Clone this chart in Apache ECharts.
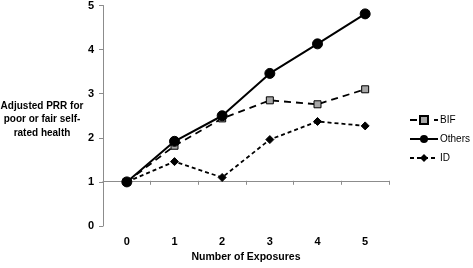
<!DOCTYPE html>
<html>
<head>
<meta charset="utf-8">
<script src="https://cdn.jsdelivr.net/npm/echarts@6/dist/echarts.min.js"></script>
<style>
    html, body { margin: 0; padding: 0; background: #fff; }
    #chart { width: 473px; height: 268px; }
</style>
</head>
<body>
<div id="chart"></div>
<script>
    var exposures = ['0', '1', '2', '3', '4', '5'];
    var bif = [1.0, 1.82, 2.44, 2.85, 2.76, 3.10];
    var others = [1.0, 1.92, 2.50, 3.46, 4.13, 4.81];
    var id = [1.0, 1.46, 1.10, 1.96, 2.37, 2.27];

    var font = 'Liberation Sans';
    var axisGray = '#8c8c8c';

    var myChart = echarts.init(document.getElementById('chart'));

    var option = {
        animation: false,
        textStyle: { fontFamily: font },
        grid: { left: 103, right: 84, top: 4, bottom: 38 },
        graphic: [{
            type: 'text',
            x: 42,
            y: 99,
            style: {
                text: 'Adjusted PRR for\npoor or fair self-\nrated health',
                font: 'bold 10px ' + font,
                fill: '#000',
                align: 'center',
                lineHeight: 13.5
            }
        }],
        legend: {
            orient: 'vertical',
            left: 404,
            top: 110,
            itemWidth: 28,
            itemHeight: 10,
            itemGap: 9,
            textStyle: { fontFamily: font, fontSize: 10, color: '#000', padding: [0, 0, 0, -3] },
            data: ['BIF', 'Others', 'ID']
        },
        xAxis: [{
            type: 'category',
            data: exposures,
            boundaryGap: true,
            name: 'Number of Exposures',
            nameLocation: 'middle',
            nameGap: 26,
            nameTextStyle: { fontFamily: font, fontSize: 10.5, fontWeight: 'bold', color: '#000' },
            axisLine: { show: false },
            axisTick: { show: false },
            axisLabel: { margin: 10, fontFamily: font, fontSize: 11, fontWeight: 'bold', color: '#000' }
        }, {
            type: 'category',
            data: exposures,
            position: 'bottom',
            offset: -45.2,
            boundaryGap: true,
            axisLine: { show: true, onZero: false, lineStyle: { color: axisGray, width: 1 } },
            axisTick: { show: true, inside: false, length: 4, lineStyle: { color: axisGray } },
            axisLabel: { show: false }
        }],
        yAxis: {
            type: 'value',
            min: 0,
            max: 5,
            interval: 1,
            splitLine: { show: false },
            axisLine: { show: true, lineStyle: { color: axisGray, width: 1 } },
            axisTick: { show: true, length: 4, lineStyle: { color: axisGray } },
            axisLabel: { margin: 9, fontFamily: font, fontSize: 11, fontWeight: 'bold', color: '#000' }
        },
        series: [{
            name: 'BIF',
            type: 'line',
            data: bif,
            symbol: 'rect',
            symbolSize: 7,
            lineStyle: { color: '#000', width: 1.8, type: [7, 5] },
            itemStyle: { color: '#a6a6a6', borderColor: '#000', borderWidth: 1 }
        }, {
            name: 'Others',
            type: 'line',
            data: others,
            symbol: 'circle',
            symbolSize: 10,
            lineStyle: { color: '#000', width: 2 },
            itemStyle: { color: '#000', borderColor: '#000' }
        }, {
            name: 'ID',
            type: 'line',
            data: id,
            symbol: 'diamond',
            symbolSize: 8,
            lineStyle: { color: '#000', width: 1.8, type: [4, 3] },
            itemStyle: { color: '#000', borderColor: '#000' }
        }]
    };

    myChart.setOption(option);
</script>
</body>
</html>
